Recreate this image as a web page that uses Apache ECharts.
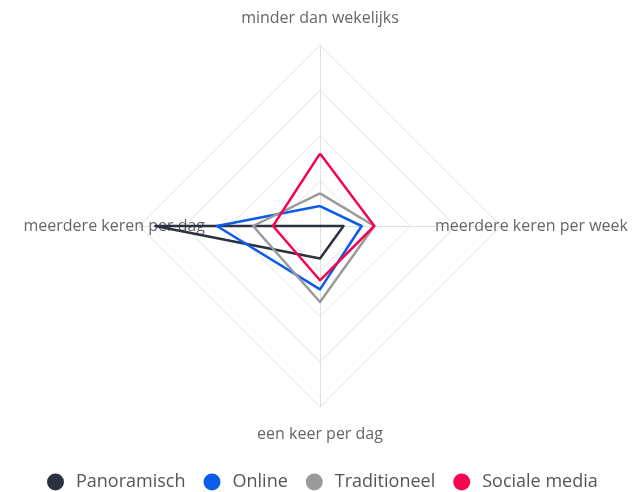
<!DOCTYPE html>
<html>
<head>
<meta charset="utf-8">
<script src="https://cdn.jsdelivr.net/npm/echarts@6/dist/echarts.min.js"></script>
<style>
  html, body { margin: 0; padding: 0; background: #fff; }
  #chart { width: 632px; height: 492px; }
</style>
</head>
<body>
<div id="chart"></div>
<script>
// indicators, counter-clockwise from the top
const indicators = ["minder dan wekelijks", "meerdere keren per dag", "een keer per dag", "meerdere keren per week"];
const seriesNames = ["Panoramisch", "Online", "Traditioneel", "Sociale media"];
const colors = ["#2b3140", "#0b5ce6", "#9a9a9a", "#f5054f"];

const panoramisch = [0, 91, 18, 13];
const online = [11, 57, 35, 23];
const traditioneel = [18, 37, 42, 30];
const socialeMedia = [40, 26, 30, 30];

const values = [panoramisch, online, traditioneel, socialeMedia];
const horizontal = ["meerdere keren per dag", "meerdere keren per week"];

const chart = echarts.init(document.getElementById("chart"));

const nameStyle = {
  color: "#666",
  fontSize: 16,
  fontFamily: "Open Sans",
};

chart.setOption({
  color: colors,
  legend: {
    bottom: -4,
    left: 42,
    icon: "circle",
    itemWidth: 17,
    itemHeight: 17,
    itemGap: 18,
    textStyle: { color: "#555", fontSize: 18, fontFamily: "Open Sans", padding: [0, 0, 0, 7] },
    data: seriesNames,
  },
  radar: [
    {
      center: [320, 226],
      radius: 181,
      shape: "polygon",
      splitNumber: 4,
      nameGap: 19,
      indicator: indicators.map((n) => ({ name: n, max: 100 })),
      axisName: Object.assign({}, nameStyle, {
        formatter: (n) => (horizontal.includes(n) ? "" : n),
      }),
      splitArea: { show: false },
      splitLine: { lineStyle: { color: "#e0e0e0", width: 1 } },
      axisLine: { lineStyle: { color: "#e0e0e0", width: 1 } },
    },
    {
      // second, hidden radar only to place the side labels closer in
      center: [320, 226],
      radius: 100,
      shape: "polygon",
      nameGap: 15,
      indicator: indicators.map((n) => ({ name: n, max: 100 })),
      axisName: Object.assign({}, nameStyle, {
        formatter: (n) => (horizontal.includes(n) ? n : ""),
      }),
      splitArea: { show: false },
      splitLine: { show: false },
      axisLine: { show: false },
      axisTick: { show: false },
      axisLabel: { show: false },
    },
  ],
  series: [
    {
      type: "radar",
      radarIndex: 0,
      symbol: "none",
      lineStyle: { width: 2.5 },
      data: values.map((v, i) => ({
        name: seriesNames[i],
        value: v,
        lineStyle: { color: colors[i], width: 2.5 },
        itemStyle: { color: colors[i] },
      })),
    },
  ],
});
</script>
</body>
</html>
